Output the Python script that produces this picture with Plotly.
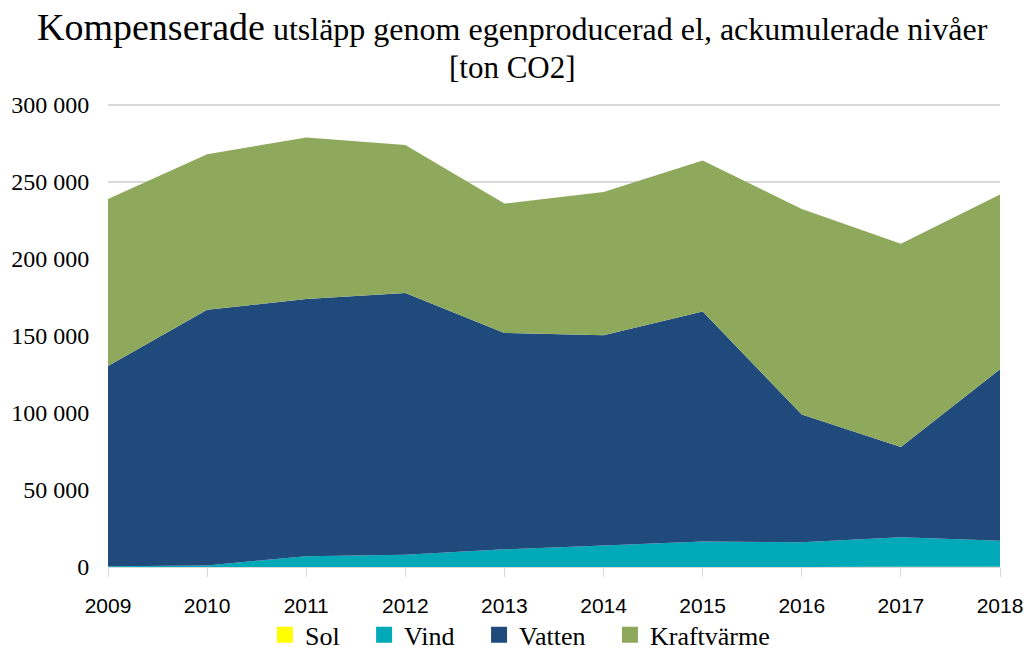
import plotly.graph_objects as go

YEARS = [2009, 2010, 2011, 2012, 2013, 2014, 2015, 2016, 2017, 2018]

# ton CO2 per kalla (staplade)
SOL = [0, 0, 10, 20, 30, 40, 60, 80, 100, 120]
VIND = [500, 1050, 6990, 7980, 11470, 13960, 16440, 15920, 19200, 16880]
VATTEN = [130000, 166000, 167000, 170000, 140500, 136500, 149500, 83000, 58700, 111500]
KRAFTVARME = [108500, 101000, 105000, 96000, 84000, 93000, 98000, 133500, 132000, 113500]

Y_TICKS = [0, 50000, 100000, 150000, 200000, 250000, 300000]
Y_TEXT = ["0", "50 000", "100 000", "150 000", "200 000", "250 000", "300 000"]

SERIES = [
    ("Sol", SOL, "#FFFF00"),
    ("Vind", VIND, "#00A9B8"),
    ("Vatten", VATTEN, "#214A7C"),
    ("Kraftvärme", KRAFTVARME, "#8EA95C"),
]

SERIF = "Liberation Serif, Times New Roman, serif"
SANS = "Liberation Sans, Arial, sans-serif"

fig = go.Figure()
for name, vals, color in SERIES:
    fig.add_trace(
        go.Scatter(
            x=YEARS,
            y=vals,
            name=name,
            stackgroup="one",
            mode="none",
            fillcolor=color,
            line=dict(width=0),
            showlegend=False,
            hovertemplate=name + " %{x}: %{y}<extra></extra>",
        )
    )

# square legend keys, padded so the entries spread like the original
PAD = "&nbsp;" * 3
for name, _, color in SERIES:
    fig.add_trace(
        go.Scatter(
            x=[None], y=[None], mode="markers", name=name + PAD,
            marker=dict(symbol="square", size=16, color=color), hoverinfo="skip",
        )
    )

fig.add_annotation(
    text="<span style='font-size:38px'>Kompenserade</span> utsläpp genom egenproducerad el, ackumulerade nivåer",
    xref="paper", yref="paper", x=0.454, y=1.161,
    xanchor="center", yanchor="middle", showarrow=False,
    font=dict(family=SERIF, size=32, color="black"),
)
fig.add_annotation(
    text="[ton CO2]",
    xref="paper", yref="paper", x=0.454, y=1.075,
    xanchor="center", yanchor="middle", showarrow=False,
    font=dict(family=SERIF, size=31, color="black"),
)

fig.update_layout(
    width=1027,
    height=651,
    paper_bgcolor="white",
    plot_bgcolor="white",
    margin=dict(l=108, r=27, t=102, b=84, autoexpand=False),
    xaxis=dict(
        range=[2009, 2018],
        tickvals=YEARS,
        ticks="outside",
        ticklen=9,
        tickcolor="#D9D9D9",
        showline=True,
        linecolor="#D9D9D9",
        showgrid=False,
        zeroline=False,
        ticklabelstandoff=11,
        tickfont=dict(family=SANS, size=21, color="black"),
    ),
    yaxis=dict(
        range=[0, 302000],
        tickvals=Y_TICKS,
        ticktext=Y_TEXT,
        showgrid=True,
        gridcolor="#D9D9D9",
        gridwidth=1.5,
        zeroline=False,
        ticks="outside",
        ticklen=13,
        tickcolor="rgba(0,0,0,0)",
        tickfont=dict(family=SERIF, size=24, color="black"),
    ),
    showlegend=True,
    legend=dict(
        orientation="h",
        xref="paper",
        x=0.473,
        xanchor="center",
        yref="paper",
        y=-0.146,
        yanchor="middle",
        bgcolor="rgba(0,0,0,0)",
        traceorder="normal",
        itemsizing="trace",
        font=dict(family=SERIF, size=26, color="black"),
        itemwidth=30,
    ),
)

# drop the default 8px page margin so the figure fills the window exactly
fig.write_html(
    "out.html",
    config={"displayModeBar": False},
    post_script="document.body.style.margin='0px'; document.body.style.overflow='hidden';",
)
